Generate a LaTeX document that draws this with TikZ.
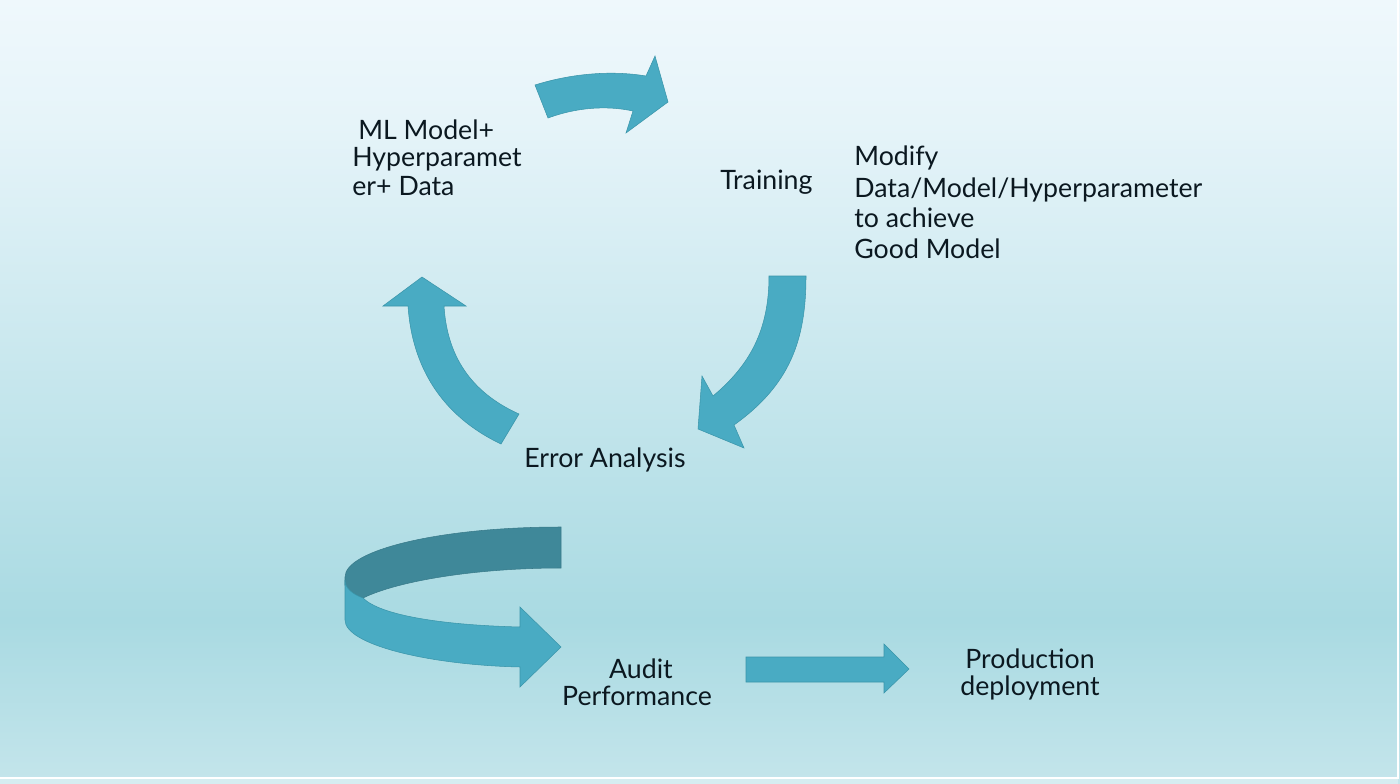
\documentclass[tikz,border=0pt]{standalone}
\usepackage{fontspec}
\setmainfont{Lato}
\definecolor{arrowfill}{HTML}{49ABC3}
\definecolor{arrowedge}{HTML}{3A95AA}
\definecolor{backband}{HTML}{3F8899}
\definecolor{txt}{HTML}{0B1820}
\definecolor{bgA}{HTML}{EFF8FC}
\definecolor{bgB}{HTML}{E6F4F9}
\definecolor{bgC}{HTML}{A9DAE2}
\definecolor{bgD}{HTML}{C4E5EB}
\begin{document}
\begin{tikzpicture}[x=0.02cm,y=-0.02cm,
  lbl/.style={text=txt,font=\fontsize{15.2}{17}\selectfont,inner sep=0pt},
  bigarrow/.style={fill=arrowfill,draw=arrowedge,line width=0.3pt,line join=miter},
  darkband/.style={fill=backband,draw=backband!90!black,line width=0.3pt}]
\useasboundingbox (0,0) rectangle (1400,784);
% background
\shade[top color=bgA,bottom color=bgB] (0,0) rectangle (1400,120.5);
\shade[top color=bgB,bottom color=bgC] (0,120) rectangle (1400,620.5);
\shade[top color=bgC,bottom color=bgD] (0,620) rectangle (1400,784);
\draw[white,line width=0.8pt] (0,778) -- (1398,778) -- (1398,0);
\fill[bgD!70!white] (0,778.5) rectangle (1397.5,784);
% top arrow
\draw[bigarrow] (535,85) .. controls (570,74) and (610,70) .. (646,76) -- (655,56) -- (668,102) -- (626,133) -- (633,111) .. controls (605,105) and (575,108) .. (548,118) -- cycle;
% down arrow
\draw[bigarrow] (769,276) -- (806,276) .. controls (806,340) and (790,385) .. (734,425) -- (744,448) -- (698,429) -- (702,376) -- (713,396) .. controls (750,365) and (769,330) .. (769,276) -- cycle;
% up-left arrow
\draw[bigarrow] (422,277) -- (466,306) -- (444,306) .. controls (447,355) and (470,392) .. (519,414) -- (501,444) .. controls (440,415) and (412,365) .. (408,306) -- (383,306) -- cycle;
% 3D curved arrow
\draw[darkband] (561,527) .. controls (440,527) and (345,550) .. (345,577) -- (345,585) .. controls (345,590) and (352,595) .. (363,598) .. controls (400,580) and (480,568) .. (561,568) -- cycle;
\draw[bigarrow] (345,580) -- (345,620) .. controls (345,645) and (430,665) .. (520,667) -- (520,687) -- (561,647) -- (520,607) -- (520,627) .. controls (440,625) and (380,615) .. (363,598) .. controls (352,594) and (345,588) .. (345,580) -- cycle;
% straight arrow
\draw[bigarrow] (746,657) -- (884,657) -- (884,644) -- (909,669) -- (884,693) -- (884,682) -- (746,682) -- cycle;
% labels
\node[lbl,anchor=base west] (ml1) at (358,139) {ML Model+};
\node[lbl,anchor=base west] (ml2) at (352,167) {Hyperparamet};
\node[lbl,anchor=base west] (ml3) at (352,195) {er+ Data};
\node[lbl,anchor=base west] (train) at (720,190) {Training};
\node[lbl,anchor=base west] (mod1) at (854,166) {Modify};
\node[lbl,anchor=base west] (mod2) at (854,197) {Data/Model/Hyperparameter};
\node[lbl,anchor=base west] (mod3) at (854,227) {to achieve};
\node[lbl,anchor=base west] (mod4) at (854,258) {Good Model};
\node[lbl,anchor=base west] (err) at (524,467) {Error Analysis};
\node[lbl,anchor=base] (aud1) at (641,678) {Audit};
\node[lbl,anchor=base] (aud2) at (637,705) {Performance};
\node[lbl,anchor=base] (prod1) at (1030,668) {Production};
\node[lbl,anchor=base] (prod2) at (1030,695) {deployment};
\end{tikzpicture}
\end{document}
